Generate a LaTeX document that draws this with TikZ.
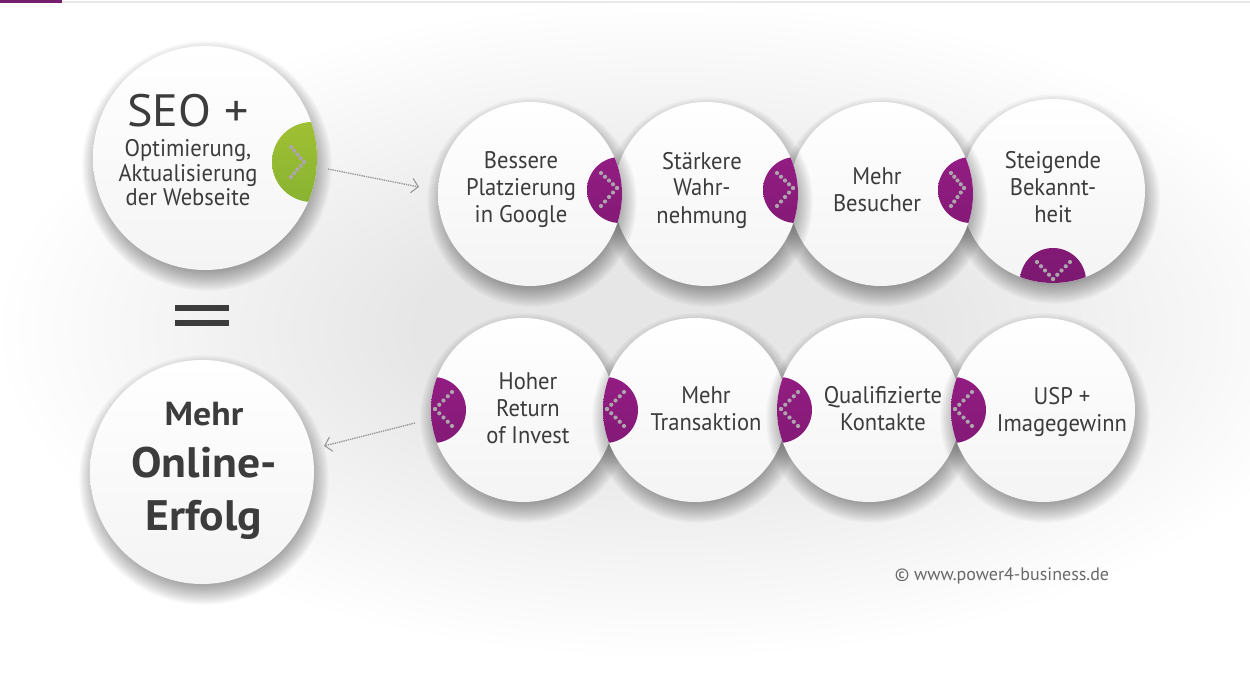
\documentclass[tikz,border=0pt]{standalone}
\usepackage{fontspec}
\setmainfont{PT Sans}[FakeStretch=0.94]
\newfontfamily\plainsans{PT Sans}
\newfontfamily\widesans{PT Sans}[FakeStretch=1.06]
\newfontfamily\boldsans{PT Sans Bold}[FakeStretch=1.07]
\usetikzlibrary{calc,arrows.meta}
\definecolor{textgray}{RGB}{60,60,60}
\definecolor{footgray}{RGB}{105,105,105}
\definecolor{purpT}{RGB}{160,30,140}
\definecolor{purpB}{RGB}{118,24,108}
\definecolor{greenT}{RGB}{182,204,52}
\definecolor{greenB}{RGB}{116,168,48}
\definecolor{dotgray}{RGB}{172,166,172}
\definecolor{arrowgray}{RGB}{150,150,150}
\definecolor{circgray}{RGB}{244,244,244}
\definecolor{topline}{RGB}{232,232,232}
\definecolor{toppurple}{RGB}{120,30,110}
\newcommand\chevdots[7]{%
  \foreach \t in {0,0.25,0.5,0.75,1}{%
    \fill[dotgray] ([shift={({(#2)+((#4)-(#2))*\t},{(#3)+((#5)-(#3))*\t})}]#1.center) circle (2.1);
    \fill[dotgray] ([shift={({(#4)+((#6)-(#4))*\t},{(#5)+((#7)-(#5))*\t})}]#1.center) circle (2.1);
  }}
\newcommand\softshadow[2]{%
  \foreach \k in {0,...,11}{%
    \fill[black, opacity=0.03] ([shift={(2,8)}]#1) circle ({#2-6+\k*1.7});
  }}
\begin{document}
\begin{tikzpicture}[x=0.75pt,y=-0.75pt,
  bubble/.style={circle, inner sep=0pt, outer sep=0pt, minimum size=138pt,
    top color=white, bottom color=circgray},
  bigbubble/.style={bubble, minimum size=168pt},
  tabR/.style={path picture={\shade[top color=purpT,bottom color=purpB] ([shift={(90,-4)}]path picture bounding box.center) circle (33);}},
  tabL/.style={path picture={\shade[top color=purpT,bottom color=purpB] ([shift={(-90,0)}]path picture bounding box.center) circle (33);}},
  tabD/.style={path picture={\shade[top color=purpT,bottom color=purpB] ([shift={(0,90)}]path picture bounding box.center) circle (33);}},
  tabG/.style={path picture={\shade[top color=greenT,bottom color=greenB] ([shift={(107,4)}]path picture bounding box.center) circle (40);}},
  txt/.style={text=textgray, align=center, inner sep=0pt, font=\fontsize{18}{20.25}\selectfont},
  arrowline/.style={draw=arrowgray, line width=1pt, dash pattern=on 1pt off 0.7pt,
    -{Straight Barb[length=5pt,width=11pt,line width=0.8pt]}}
]
\useasboundingbox (0,0) rectangle (1250,674);
\fill[white] (0,0) rectangle (1250,674);
\begin{scope}
  \clip (0,0) rectangle (1250,674);
  \foreach \i in {0,...,24}{
    \fill[black, opacity=0.004] (670,330) ellipse ({260+\i*17} and {110+\i*9});
  }
\end{scope}
\fill[topline] (0,1) rectangle (1250,3);
\fill[toppurple] (0,0) rectangle (62,3);

% centres
\coordinate (cSeo) at (205,158);
\coordinate (cErf) at (202,472);
\coordinate (cSteig) at (1053,191);
\coordinate (cBesuch) at (881,194);
\coordinate (cStaerk) at (706,194);
\coordinate (cPlatz) at (530,194);
\coordinate (cRoi) at (523,410);
\coordinate (cTrans) at (695,410);
\coordinate (cKont) at (869,410);
\coordinate (cUsp) at (1043,410);

% left circles
\softshadow{cSeo}{112}
\node[bigbubble, tabG] (seo) at (cSeo) {};
\softshadow{cErf}{112}
\node[bigbubble] (erfolg) at (cErf) {};

% top row (left on top)
\softshadow{cSteig}{92}
\node[bubble, tabD] (steig) at (cSteig) {};
\softshadow{cBesuch}{92}
\node[bubble, tabR] (besuch) at (cBesuch) {};
\softshadow{cStaerk}{92}
\node[bubble, tabR] (staerk) at (cStaerk) {};
\softshadow{cPlatz}{92}
\node[bubble, tabR] (platz) at (cPlatz) {};

% bottom row (right on top)
\softshadow{cRoi}{92}
\node[bubble, tabL] (roi) at (cRoi) {};
\softshadow{cTrans}{92}
\node[bubble, tabL] (trans) at (cTrans) {};
\softshadow{cKont}{92}
\node[bubble, tabL] (kontakt) at (cKont) {};
\softshadow{cUsp}{92}
\node[bubble, tabL] (usp) at (cUsp) {};

% chevrons
\chevdots{seo}{86}{-11}{99}{4}{86}{19}
\chevdots{platz}{71}{-21}{87}{-6}{71}{12}
\chevdots{staerk}{71}{-21}{87}{-6}{71}{12}
\chevdots{besuch}{70}{-21}{83}{-6}{70}{12}
\chevdots{steig}{-16}{71}{0}{88}{17}{71}
\chevdots{roi}{-71}{-18}{-88}{-1}{-71}{16}
\chevdots{trans}{-71}{-18}{-88}{-1}{-71}{16}
\chevdots{kontakt}{-71}{-18}{-88}{-1}{-71}{16}
\chevdots{usp}{-71}{-18}{-88}{-1}{-71}{16}

% connectors
\coordinate (a1s) at (328,169);
\coordinate (a1e) at (419,187);
\coordinate (a2s) at (415,423);
\coordinate (a2e) at (324,446);
\draw[arrowline] (a1s) -- (a1e);
\draw[arrowline] (a2s) -- (a2e);

% equals sign
\fill[textgray] (175,305) rectangle (229,311);
\fill[textgray] (175,320) rectangle (229,326);

% texts
\node[txt, font=\widesans\fontsize{34}{38}\selectfont] (tSeo) at (188,111) {SEO +};
\node[txt, font=\fontsize{18}{18.4}\selectfont] (tSeoSub) at (188,173) {Optimierung,\\Aktualisierung\\der Webseite};
\node[txt, font=\boldsans\fontsize{25}{28}\selectfont] (tMehr) at (204,414) {Mehr};
\node[txt, font=\boldsans\fontsize{32}{39.75}\selectfont] (tOnline) at (204,493) {Online-\\Erfolg};

\node[txt] (tPlatz) at (521,190) {Bessere\\Platzierung\\in Google};
\node[txt] (tStaerk) at (702,190) {Stärkere\\Wahr-\\nehmung};
\node[txt] (tBesuch) at (877,190) {Mehr\\Besucher};
\node[txt] (tSteig) at (1053,187) {Steigende\\Bekannt-\\heit};
\node[txt] (tRoi) at (528,408.5) {Hoher\\Return\\of Invest};
\node[txt] (tTrans) at (706,409) {Mehr\\Transaktion};
\node[txt] (tKont) at (883,409) {Qualifizierte\\Kontakte};
\node[txt] (tUsp) at (1062,411.5) {USP +\\Imagegewinn};

\node[txt, text=footgray, font=\plainsans\fontsize{13.5}{16}\selectfont] (foot) at (1002,575.5) {© www.power4-business.de};
\end{tikzpicture}
\end{document}
